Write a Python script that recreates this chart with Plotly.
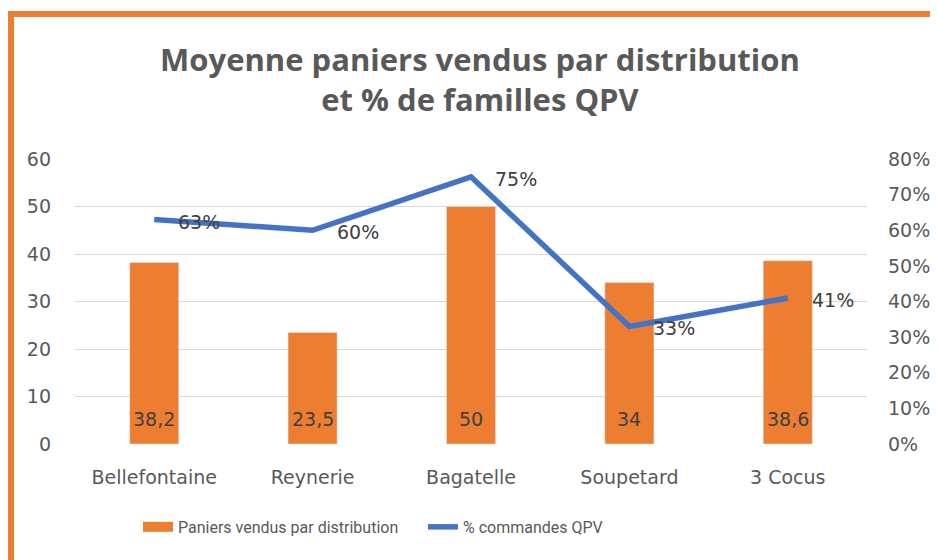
import plotly.graph_objects as go

categories = ["Bellefontaine", "Reynerie", "Bagatelle", "Soupetard", "3 Cocus"]
paniers = [38.2, 23.5, 50, 34, 38.6]
qpv = [0.63, 0.60, 0.75, 0.33, 0.41]
y_ticks = [0, 10, 20, 30, 40, 50, 60]
y2_ticks = [0, 0.1, 0.2, 0.3, 0.4, 0.5, 0.6, 0.7, 0.8]

FONT = "DejaVu Sans"
TITLE_FONT = "Open Sans"
LEG_FONT = "Liberation Sans Narrow, Roboto, sans-serif"
GREY = "#595959"
DARK = "#404040"
ORANGE = "#ED7D31"
BLUE = "#4472C4"

bar_text = [f"{v:g}".replace(".", ",") for v in paniers]
line_text = [f"{round(p * 100)}%" for p in qpv]

fig = go.Figure()
fig.add_trace(go.Bar(
    x=categories, y=paniers, name="Paniers vendus par distribution",
    marker_color=ORANGE, width=0.31, showlegend=False,
))
# legend proxy (wide rectangle like the reference key)
fig.add_trace(go.Scatter(
    x=[None], y=[None], mode="lines", name="Paniers vendus par distribution",
    line=dict(color=ORANGE, width=13),
))
fig.add_trace(go.Scatter(
    x=categories, y=qpv, name="% commandes QPV", yaxis="y2",
    mode="lines", line=dict(color=BLUE, width=5.5),
))

annotations = []
for c, v, t in zip(categories, paniers, bar_text):
    annotations.append(dict(x=c, y=0, xref="x", yref="y", text=t, showarrow=False,
                            yanchor="bottom", yshift=12,
                            font=dict(family=FONT, size=19, color=DARK)))
for c, p, t in zip(categories, qpv, line_text):
    annotations.append(dict(x=c, y=p, xref="x", yref="y2", text=t, showarrow=False,
                            xanchor="left", xshift=22, yshift=-2,
                            font=dict(family=FONT, size=19, color=DARK)))

fig.update_layout(
    width=930, height=552,
    margin=dict(l=67, r=71, t=151, b=116, autoexpand=False),
    paper_bgcolor="white", plot_bgcolor="white",
    font=dict(family=FONT, size=19, color=GREY),
    title=dict(
        text="<b>Moyenne paniers vendus par distribution<br>et % de familles QPV</b>",
        x=0.5075, xanchor="center", y=0.886, yanchor="top",
        font=dict(family=TITLE_FONT, size=31, color=GREY),
    ),
    xaxis=dict(showgrid=False, showline=False, ticks="", tickfont=dict(size=19, color=GREY),
               ticklabelstandoff=20),
    yaxis=dict(range=[0, 60], tickvals=y_ticks, showgrid=True, gridcolor="#D9D9D9",
               gridwidth=1, zeroline=False, ticks="", tickfont=dict(size=19, color=GREY),
               ticklabelstandoff=23),
    yaxis2=dict(range=[0, 0.8], tickvals=y2_ticks, tickformat=".0%", overlaying="y",
                side="right", showgrid=False, zeroline=False, ticks="",
                tickfont=dict(size=19, color=GREY), ticklabelstandoff=20),
    showlegend=True,
    legend=dict(orientation="h", x=0.0795, xanchor="left", y=-0.291, yanchor="middle",
                font=dict(family=LEG_FONT, size=16, color=GREY), entrywidth=240,
                traceorder="normal"),
    annotations=annotations,
    shapes=[
        dict(type="line", xref="paper", yref="paper", x0=-0.0808, x1=1.2, y0=1.5088, y1=1.5088,
             line=dict(color=ORANGE, width=6)),
        dict(type="line", xref="paper", yref="paper", x0=-0.0808, x1=-0.0808, y0=1.519, y1=-0.5,
             line=dict(color=ORANGE, width=6)),
    ],
)

fig.write_html("out.html")
